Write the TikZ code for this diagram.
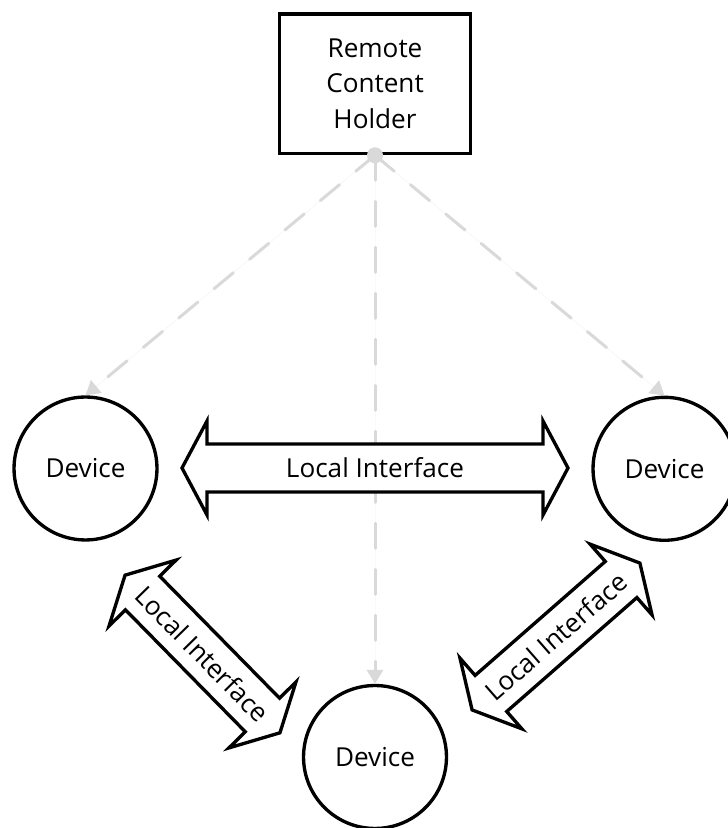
\documentclass[tikz,border=0pt]{standalone}
\usepackage{fontspec}
\setmainfont{Open Sans}
\usetikzlibrary{arrows.meta}
\definecolor{linkgray}{HTML}{D9D9D9}
\begin{document}
\begin{tikzpicture}[
  x=0.75pt, y=0.75pt,
  txt/.style={font=\fontsize{19.6pt}{26.6pt}\selectfont, text=black},
  holder/.style={draw, line width=2.6pt, rectangle, minimum width=142.9pt,
    minimum height=104.6pt, inner sep=0pt, align=center, txt},
  device/.style={draw, line width=2.5pt, circle, minimum size=107.2pt,
    inner sep=0pt, txt},
  link/.style={draw=linkgray, line width=2.25pt, line cap=round,
    dash pattern=on 18.75pt off 15.75pt,
    -{Triangle[length=10.5pt,width=12pt]}, fill=linkgray},
  hubdot/.style={circle, fill=linkgray, minimum size=12pt, inner sep=0pt},
  arrowbody/.style={draw=black, fill=white, line width=2.5pt, line join=miter},
  lbl/.style={txt, inner sep=0pt},
  pics/dblarrow/.style={code={
    \path[arrowbody] ({-#1/2},0) -- ({-#1/2+25},47) -- ({-#1/2+25},24)
      -- ({#1/2-25},24) -- ({#1/2-25},47) -- ({#1/2},0)
      -- ({#1/2-25},-47) -- ({#1/2-25},-24) -- ({-#1/2+25},-24)
      -- ({-#1/2+25},-47) -- cycle;
  }}
]
\useasboundingbox (0,0) rectangle (728,828);
\clip (0,0) rectangle (728,828);

% content holder and the three devices
\node[holder] (holder) at (375,744.2) {Remote\\Content\\Holder};
\node[device] (devleft) at (85.5,359.5) {Device};
\node[device] (devright) at (664.5,359.2) {Device};
\node[device] (devbottom) at (375,71) {Device};

% remote links from the holder
\coordinate (hub) at (holder.south);
\draw[link] (hub) -- (devleft.north);
\draw[link] (hub) -- (devbottom.north);
\draw[link] (hub) -- (devright.north);
\node[hubdot] (hubmark) at (hub) {};

% local interfaces between devices
\pic at (375,360) {dblarrow=386};
\node[lbl] (liftop) at (375,360) {Local Interface};

\pic[rotate=-45.5] at (202.5,174) {dblarrow=221};
\node[lbl, rotate=-45.5] (lifleft) at (202.5,174) {Local Interface};

\pic[rotate=41.2] at (556,191.5) {dblarrow=223};
\node[lbl, rotate=41.2] (lifright) at (556,191.5) {Local Interface};
\end{tikzpicture}
\end{document}
